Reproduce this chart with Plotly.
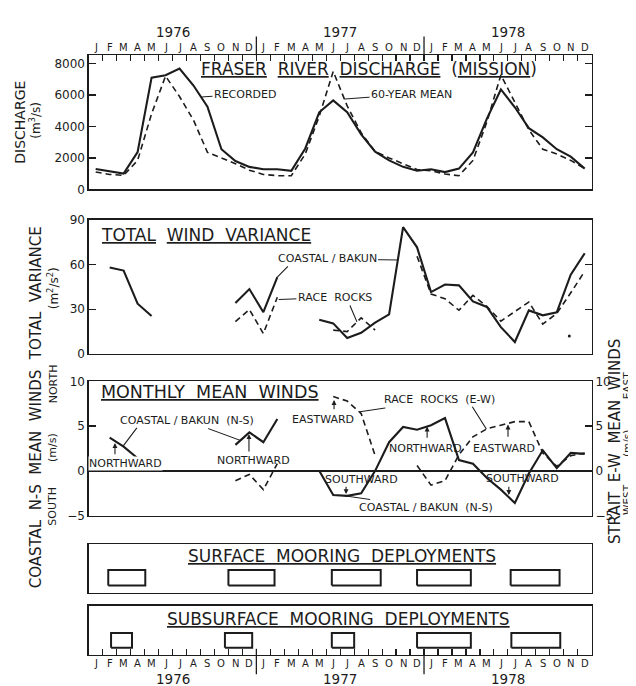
import plotly.graph_objects as go

# ---------------- data ----------------
MONTH_LETTERS = ["J", "F", "M", "A", "M", "J", "J", "A", "S", "O", "N", "D"]
YEARS = ["1976", "1977", "1978"]
YEAR_CENTERS = [6, 18, 30]
YEAR_BOUNDS = [12, 24]
N_MONTHS = 36
month_pos = [i + 0.5 for i in range(N_MONTHS)]

discharge_recorded = [1300, 1130, 1000, 2370, 7100, 7250, 7680, 6600, 5250, 2550, 1800, 1430,
                      1280, 1280, 1180, 2600, 4900, 5650, 4900, 3500, 2400, 1840, 1430, 1180,
                      1280, 1100, 1320, 2350, 4500, 6350, 5220, 3890, 3300, 2550, 2080, 1320]
discharge_mean60 = [1100, 950, 890, 1840, 4800, 7200, 5900, 4400, 2350, 2000, 1630, 1220,
                    950, 870, 870, 2250, 4650, 7500, 5300, 3600, 2400, 2000, 1630, 1260,
                    1180, 975, 870, 1840, 4290, 7270, 5530, 3790, 2550, 2250, 1840, 1320]

variance_coastal = [None, 58.0, 55.9, 33.7, 25.4, None, None, None, None, None, 34.1, 43.5,
                    28.0, 51.5, None, None, 23.0, 20.5, 10.7, 14.2, 21.0, 26.5, 85.0, 71.5,
                    41.5, 46.6, 46.0, 35.2, 31.5, 18.0, 8.0, 29.2, 25.9, 27.9, 53.2, 67.5]
variance_race = [None, None, None, None, None, None, None, None, None, None, 21.7, 29.8,
                 13.7, 38.0, None, None, None, 16.0, 15.0, 24.2, 16.0, None, None, 65.5,
                 40.2, 37.0, 29.3, 39.3, 31.8, 22.0, 28.5, 34.8, 20.0, 27.2, 41.0, 55.4]
variance_dot_month = [34.4]
variance_dot_value = [12.0]

wind_coastal_ns = [None, 3.7, 2.7, 1.4, 0.1, None, None, None, None, None, 2.9, 4.3,
                   3.2, 5.8, None, None, 0.0, -2.7, -2.8, -2.5, 0.0, 3.2, 4.9, 4.6,
                   5.1, 5.9, 1.2, 0.8, -0.8, -2.1, -3.6, -0.3, 2.3, 0.3, 2.0, 1.9]
wind_race_ew = [None, None, None, None, None, None, None, None, None, None, -1.1, -0.4,
                -2.1, 0.8, None, None, None, 8.3, 7.8, 6.4, 1.7, None, None, 0.6,
                -1.6, -1.1, 1.8, 3.8, 4.7, 5.1, 5.5, 5.5, 2.0, 0.5, 1.7, 2.0]

surface_start = [1.4, 10.0, 17.4, 23.5, 30.2]
surface_end = [4.05, 13.3, 20.9, 27.35, 33.7]
subsurface_start = [1.6, 9.75, 17.4, 23.5, 30.25]
subsurface_end = [3.1, 11.7, 19.0, 27.35, 33.75]

discharge_ticks = [0, 2000, 4000, 6000, 8000]
variance_ticks = [0, 30, 60, 90]
wind_ticks = [-5, 0, 5, 10]

# ---------------- style ----------------
W, H = 636, 686
INK = "#1c1c1c"
FONT = "DejaVu Sans"
DASH = "6px,4px"
X_DOM = [80.7 / W, 583.7 / W]


def ydom(top, bottom):
    return [1 - bottom / H, 1 - top / H]


def px(x):
    return x / W


def py(y):
    return 1 - y / H


fig = go.Figure()


def add_line(x, y, xa, ya, dashed=False, width=2.1):
    fig.add_trace(go.Scatter(
        x=x, y=y, xaxis=xa, yaxis=ya, mode="lines", connectgaps=False,
        line=dict(color=INK, width=1.6 if dashed else width, dash=DASH if dashed else "solid"),
        hoverinfo="skip", showlegend=False))


add_line(month_pos, discharge_recorded, "x", "y")
add_line(month_pos, discharge_mean60, "x", "y", dashed=True)
add_line(month_pos, variance_coastal, "x2", "y2")
add_line(month_pos, variance_race, "x2", "y2", dashed=True)
fig.add_trace(go.Scatter(x=variance_dot_month, y=variance_dot_value, xaxis="x2", yaxis="y2",
                         mode="markers", marker=dict(color=INK, size=3),
                         hoverinfo="skip", showlegend=False))
add_line(month_pos, wind_coastal_ns, "x3", "y3")
add_line(month_pos, wind_race_ew, "x3", "y6", dashed=True)

BOX_LO, BOX_HI = 0.15, 0.47
SUB_LO, SUB_HI = 0.14, 0.44
for s, e in zip(surface_start, surface_end):
    add_line([s, e, e, s, s], [BOX_LO, BOX_LO, BOX_HI, BOX_HI, BOX_LO], "x4", "y4", width=2)
for s, e in zip(subsurface_start, subsurface_end):
    add_line([s, e, e, s, s], [SUB_LO, SUB_LO, SUB_HI, SUB_HI, SUB_LO], "x5", "y5", width=2)

bound_ticks = list(range(1, N_MONTHS))
tickfont = dict(family=FONT, size=12, color=INK)


def xax(anchor, side="bottom", ticks=False):
    d = dict(domain=X_DOM, range=[0, N_MONTHS], anchor=anchor, side=side,
             showline=True, mirror=True, linecolor=INK, linewidth=1.3,
             showgrid=False, zeroline=False, showticklabels=False, fixedrange=True)
    if ticks:
        d.update(ticks="inside", tickvals=bound_ticks, ticklen=6, tickwidth=1.2, tickcolor=INK)
    else:
        d.update(ticks="")
    return d


def yax(anchor, dom, rng, tickvals, mirror="ticks", **kw):
    d = dict(domain=dom, range=rng, anchor=anchor, showline=True, mirror=mirror,
             linecolor=INK, linewidth=1.3, showgrid=False, zeroline=False, fixedrange=True)
    if tickvals:
        d.update(ticks="inside", tickvals=tickvals, ticklen=7, tickwidth=1.2, tickcolor=INK,
                 tickfont=tickfont)
    else:
        d.update(ticks="", showticklabels=False)
    d.update(kw)
    return d


fig.update_layout(
    width=W, height=H, autosize=False,
    margin=dict(l=0, r=0, t=0, b=0),
    paper_bgcolor="white", plot_bgcolor="white",
    showlegend=False, hovermode=False,
    font=dict(family=FONT, color=INK),
    xaxis=xax("y", side="top", ticks=True),
    xaxis2=xax("y2"),
    xaxis3=xax("y3"),
    xaxis4=xax("y4"),
    xaxis5=xax("y5", side="bottom", ticks=True),
    yaxis=yax("x", ydom(41, 178), [0, 8530], discharge_ticks),
    yaxis2=yax("x2", ydom(209, 346), [0, 90], variance_ticks),
    yaxis3=yax("x3", ydom(374, 511), [-5, 10], wind_ticks, mirror=False,
               zeroline=True, zerolinecolor=INK, zerolinewidth=1.4),
    yaxis6=dict(overlaying="y3", side="right", anchor="x3", range=[-5, 10],
                showline=True, linecolor=INK, linewidth=1.3, showgrid=False, zeroline=False,
                ticks="inside", tickvals=wind_ticks, ticklen=7, tickwidth=1.2, tickcolor=INK,
                tickfont=tickfont, fixedrange=True),
    yaxis4=yax("x4", ydom(540, 590), [0, 1], None, mirror=True),
    yaxis5=yax("x5", ydom(603, 653), [0, 1], None, mirror=True),
)

ann = []


def text(t, x, y, xref="paper", yref="paper", size=11, angle=0, bg=None):
    a = dict(text=t, x=x, y=y, xref=xref, yref=yref, showarrow=False, textangle=angle,
             font=dict(family=FONT, size=size, color=INK), xanchor="center", yanchor="middle")
    if bg:
        a.update(bgcolor=bg, borderpad=0)
    ann.append(a)


def label(t, cx, cy, xref, yref, tip, size=11):
    ann.append(dict(text=t, x=tip[0], y=tip[1], ax=cx, ay=cy, xref=xref, yref=yref,
                    axref=xref, ayref=yref, showarrow=True, arrowhead=0, arrowwidth=1,
                    arrowcolor=INK, font=dict(family=FONT, size=size, color=INK)))


def pointer(tail, tip, xref, yref, head=0):
    ann.append(dict(text="", x=tip[0], y=tip[1], ax=tail[0], ay=tail[1], xref=xref, yref=yref,
                    axref=xref, ayref=yref, showarrow=True, arrowhead=head, arrowsize=0.9,
                    arrowwidth=1.1, arrowcolor=INK))


# month letters and years
for i in range(N_MONTHS):
    letter = MONTH_LETTERS[i % 12]
    text(letter, month_pos[i], py(33), xref="x", size=10)
    text(letter, month_pos[i], py(662), xref="x5", size=10)
for yr, c in zip(YEARS, YEAR_CENTERS):
    text(yr, c, py(17), xref="x", size=13.5)
    text(yr, c, py(678), xref="x5", size=13.5)

shapes = []
for b in YEAR_BOUNDS:
    shapes.append(dict(type="line", xref="x", yref="paper", x0=b, x1=b, y0=py(22), y1=py(41),
                       line=dict(color=INK, width=1.3)))
    shapes.append(dict(type="line", xref="x5", yref="paper", x0=b, x1=b, y0=py(647), y1=py(673),
                       line=dict(color=INK, width=1.3)))

NB = "&nbsp;&nbsp;"
# panel titles
text("<u>FRASER</u>" + NB + "<u>RIVER</u>" + NB + "<u>DISCHARGE</u>" + NB + "(<u>MISSION</u>)",
     20.03, 7659, xref="x", yref="y", size=17)
text("<u>TOTAL</u>" + NB + "<u>WIND" + NB + "VARIANCE</u>", 8.36, 79.5, xref="x2", yref="y2", size=17)
text("<u>MONTHLY" + NB + "MEAN" + NB + "WINDS</u>", 8.65, 8.8, xref="x3", yref="y3", size=17.5)
text("<u>SURFACE" + NB + "MOORING" + NB + "DEPLOYMENTS</u>", 18.1, 0.76, xref="x4", yref="y4", size=17)
text("<u>SUBSURFACE" + NB + "MOORING" + NB + "DEPLOYMENTS</u>", 17.88, 0.72, xref="x5", yref="y5", size=17)

# panel 1 labels
label("RECORDED", 11.19, 6059, "x", "y", (8.05, 5870))
label("60-YEAR" + "&nbsp;" + "MEAN", 23.11, 6059, "x", "y", (18.3, 5740))

# panel 2 labels
label("COASTAL / BAKUN", 17.06, 63.7, "x2", "y2", (22.1, 63.0))
pointer((14.36, 59.8), (13.5, 51.5), "x2", "y2")
label("RACE" + NB + "ROCKS", 17.62, 37.9, "x2", "y2", (13.6, 36.5))
pointer((18.65, 33.5), (19.2, 21.5), "x2", "y2")

# panel 3 labels
label("COASTAL / BAKUN  (N-S)", 7.0, 5.62, "x3", "y3", (10.85, 3.4))
pointer((3.53, 4.96), (2.46, 2.77), "x3", "y3")
text("NORTHWARD", 2.63, 0.83, xref="x3", yref="y3", bg="white")
pointer((1.88, 1.68), (1.88, 3.1), "x3", "y3", head=2)
text("NORTHWARD", 11.8, 1.13, xref="x3", yref="y3")
pointer((11.47, 2.0), (11.47, 4.1), "x3", "y3", head=2)
text("EASTWARD", 16.8, 5.73, xref="x3", yref="y3")
pointer((17.56, 6.71), (17.56, 7.92), "x3", "y3", head=2)
label("RACE" + NB + "ROCKS" + NB + "(E-W)", 25.08, 7.92, "x3", "y3", (19.4, 6.6))
pointer((27.39, 7.34), (28.46, 4.67), "x3", "y3")
text("NORTHWARD", 24.09, 2.55, xref="x3", yref="y3")
pointer((24.22, 3.54), (24.22, 4.96), "x3", "y3", head=2)
text("EASTWARD", 29.75, 2.55, xref="x3", yref="y3")
pointer((30.01, 3.65), (30.01, 5.18), "x3", "y3", head=2)
text("SOUTHWARD", 19.53, -0.95, xref="x3", yref="y3")
pointer((18.42, -1.61), (18.42, -2.6), "x3", "y3", head=2)
label("COASTAL / BAKUN  (N-S)", 24.11, -4.1, "x3", "y3", (18.35, -2.8))
text("SOUTHWARD", 31.08, -0.84, xref="x3", yref="y3")
pointer((30.07, -1.61), (30.07, -2.7), "x3", "y3", head=2)

# axis titles (rotated; centers shifted left to compensate rotation offset)
text("DISCHARGE", px(12), py(110), size=14, angle=-90)
text("(m<sup>3</sup>/s)", px(27), py(108), size=12, angle=-90)
text("TOTAL" + NB + "VARIANCE", px(28), py(284), size=15, angle=-90)
text("(m<sup>2</sup>/s<sup>2</sup>)", px(45), py(279), size=12, angle=-90)
text("COASTAL" + NB + "N-S" + NB + "MEAN" + NB + "WINDS", px(28), py(474), size=15, angle=-90)
text("NORTH", px(45), py(377), size=11, angle=-90)
text("(m/s)", px(45), py(442), size=11, angle=-90)
text("SOUTH", px(45), py(502), size=11, angle=-90)
text("STRAIT" + NB + "E-W" + NB + "MEAN" + NB + "WINDS", px(607), py(435), size=15, angle=-90)
text("EAST", px(619), py(379), size=10.5, angle=-90)
text("(m/s)", px(619), py(438), size=10.5, angle=-90)
text("WEST", px(619), py(495), size=10.5, angle=-90)

fig.update_layout(annotations=ann, shapes=shapes)

fig.write_html("out.html", config={"displayModeBar": False, "staticPlot": True})
